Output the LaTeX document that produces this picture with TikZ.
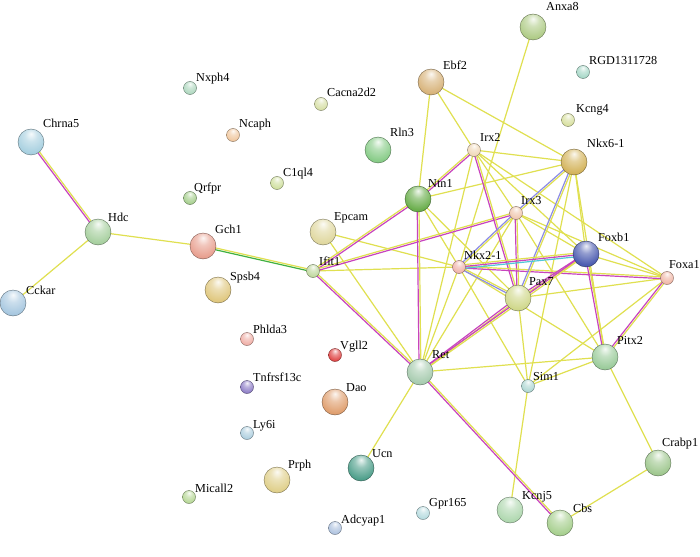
\documentclass[tikz,border=0pt]{standalone}
\usepackage{fontspec}
\setmainfont{Liberation Serif}
\usetikzlibrary{calc}
\makeatletter
\pgfdeclareradialshading[tikz@ball]{softball}{\pgfqpoint{0bp}{16bp}}{%
 color(0bp)=(tikz@ball!10!white);
 color(12bp)=(tikz@ball!60!white);
 color(30bp)=(tikz@ball);
 color(48bp)=(tikz@ball!85!black);
 color(60bp)=(tikz@ball!70!black);
 color(72bp)=(tikz@ball!55!black)}
\makeatother
\pgfdeclarelayer{bg}
\pgfdeclarelayer{edges}
\pgfsetlayers{bg,edges,main}
\definecolor{eyel}{HTML}{E0E050}
\definecolor{emag}{HTML}{C844BE}
\definecolor{eblu}{HTML}{8C8CE6}
\definecolor{ecya}{HTML}{50C8D8}
\definecolor{egrn}{HTML}{40B040}
\tikzset{
  gball/.style={circle,inner sep=0pt,draw=#1!55!black,line width=0.4pt,ball color=#1,shading=softball},
  glabel/.style={anchor=base west,inner sep=0pt,font=\fontsize{12.2}{13}\selectfont},
  eg/.style={line width=1.2pt},
  ye/.style={eg,eyel}
}
\newcommand\gene[8]{%
  \node[gball=#5,minimum size=#4] (#1) at (#2,#3) {};
  \node[glabel] (#1l) at ($(#1)+(#7,#8)$) {#6};}
\newcommand\ey[2]{\draw[ye] (#1.center) -- (#2.center);}
\newcommand\etwo[4]{%
  \draw[eg,#3] ($(#1)!0.9pt!90:(#2)$) -- ($(#2)!0.9pt!-90:(#1)$);
  \draw[eg,#4] ($(#1)!0.9pt!-90:(#2)$) -- ($(#2)!0.9pt!90:(#1)$);}
\newcommand\ethree[5]{%
  \draw[eg,#3] ($(#1)!1.8pt!90:(#2)$) -- ($(#2)!1.8pt!-90:(#1)$);
  \draw[eg,#4] (#1.center) -- (#2.center);
  \draw[eg,#5] ($(#1)!1.8pt!-90:(#2)$) -- ($(#2)!1.8pt!90:(#1)$);}
\definecolor{cAnxa}{HTML}{B0CC88}
\definecolor{cRgd}{HTML}{A8D8C8}
\definecolor{cKcng}{HTML}{D8E0A0}
\definecolor{cEbf}{HTML}{D8B47C}
\definecolor{cRln}{HTML}{88CC88}
\definecolor{cIrxb}{HTML}{F0D8B8}
\definecolor{cNkxf}{HTML}{D4B45C}
\definecolor{cNtn}{HTML}{6AAE4C}
\definecolor{cIrxc}{HTML}{F0C8B0}
\definecolor{cFoxb}{HTML}{4C5CB0}
\definecolor{cFoxa}{HTML}{F0B8A8}
\definecolor{cNkxt}{HTML}{F0B4AC}
\definecolor{cPax}{HTML}{D0D88C}
\definecolor{cPitx}{HTML}{9CCC9C}
\definecolor{cRet}{HTML}{A8CCB0}
\definecolor{cSim}{HTML}{B0D8D4}
\definecolor{cCrab}{HTML}{A0C890}
\definecolor{cCbs}{HTML}{A8D090}
\definecolor{cKcnj}{HTML}{B0D8B0}
\definecolor{cGpr}{HTML}{B8DCE0}
\definecolor{cUcn}{HTML}{50A08C}
\definecolor{cAdcy}{HTML}{B0C4E0}
\definecolor{cPrph}{HTML}{E0D08C}
\definecolor{cMic}{HTML}{B8D898}
\definecolor{cLy}{HTML}{B0D0E0}
\definecolor{cTnf}{HTML}{9080C8}
\definecolor{cPhl}{HTML}{F0B0A8}
\definecolor{cVgl}{HTML}{E04848}
\definecolor{cDao}{HTML}{E0A070}
\definecolor{cSps}{HTML}{E0C880}
\definecolor{cGch}{HTML}{E8A090}
\definecolor{cHdc}{HTML}{A8D0A0}
\definecolor{cChr}{HTML}{A8D0E0}
\definecolor{cCck}{HTML}{A8C8E0}
\definecolor{cQrf}{HTML}{A8D090}
\definecolor{cCql}{HTML}{D0E0A0}
\definecolor{cNca}{HTML}{F0C8A0}
\definecolor{cEpc}{HTML}{E0D8A0}
\definecolor{cIfi}{HTML}{C0D8A0}
\definecolor{cNxp}{HTML}{B0D8C0}
\definecolor{cCac}{HTML}{D8E0A8}
\begin{document}
\begin{tikzpicture}[x=1pt,y=-1pt]
\begin{pgfonlayer}{bg}
\fill[white] (0,0) rectangle (700,556);
\end{pgfonlayer}
\useasboundingbox (0,0) rectangle (700,556);
% nodes
\gene{anxa}{533}{27}{26pt}{cAnxa}{Anxa8}{13}{-16}
\gene{rgd}{583}{72}{13pt}{cRgd}{RGD1311728}{6}{-7}
\gene{kcng}{568}{120}{13pt}{cKcng}{Kcng4}{8}{-7}
\gene{ebf}{431}{82}{26pt}{cEbf}{Ebf2}{12}{-12}
\gene{rln}{378}{150}{26pt}{cRln}{Rln3}{12}{-13}
\gene{irxb}{474}{150}{13pt}{cIrxb}{Irx2}{6}{-8}
\gene{nkxf}{574}{162}{26pt}{cNkxf}{Nkx6-1}{13}{-14}
\gene{ntn}{418}{199}{26pt}{cNtn}{Ntn1}{10}{-12}
\gene{irxc}{516}{213}{13pt}{cIrxc}{Irx3}{5}{-9}
\gene{foxb}{586}{254}{26pt}{cFoxb}{Foxb1}{12}{-13}
\gene{foxa}{667}{278}{13pt}{cFoxa}{Foxa1}{2}{-10}
\gene{nkxt}{459}{267}{13pt}{cNkxt}{Nkx2-1}{5}{-8}
\gene{pax}{518}{298}{26pt}{cPax}{Pax7}{11}{-13}
\gene{pitx}{605}{357}{26pt}{cPitx}{Pitx2}{12}{-13}
\gene{ret}{420}{372}{26pt}{cRet}{Ret}{12}{-14}
\gene{sim}{528}{386}{13pt}{cSim}{Sim1}{5}{-6}
\gene{crab}{658}{463}{26pt}{cCrab}{Crabp1}{4}{-17}
\gene{cbs}{560}{523}{26pt}{cCbs}{Cbs}{13}{-11}
\gene{kcnj}{510}{510}{26pt}{cKcnj}{Kcnj5}{12}{-11}
\gene{gpr}{423}{513}{13pt}{cGpr}{Gpr165}{6}{-7}
\gene{ucn}{361}{468}{26pt}{cUcn}{Ucn}{11}{-11}
\gene{adcy}{335}{528}{13pt}{cAdcy}{Adcyap1}{6}{-5}
\gene{prph}{277}{480}{26pt}{cPrph}{Prph}{11}{-12}
\gene{mic}{189}{497}{13pt}{cMic}{Micall2}{6}{-5}
\gene{ly}{247}{433}{13pt}{cLy}{Ly6i}{6}{-5}
\gene{tnf}{247}{387}{13pt}{cTnf}{Tnfrsf13c}{6}{-6}
\gene{phl}{247}{339}{13pt}{cPhl}{Phlda3}{6}{-6}
\gene{vgl}{335}{355}{13pt}{cVgl}{Vgll2}{5}{-6}
\gene{dao}{335}{402}{26pt}{cDao}{Dao}{11}{-11}
\gene{sps}{218}{290}{26pt}{cSps}{Spsb4}{12}{-10}
\gene{gch}{203}{246}{26pt}{cGch}{Gch1}{12}{-13}
\gene{hdc}{98}{232}{26pt}{cHdc}{Hdc}{10}{-11}
\gene{chr}{31}{142}{26pt}{cChr}{Chrna5}{12}{-14}
\gene{cck}{13}{303}{26pt}{cCck}{Cckar}{13}{-9}
\gene{qrf}{190}{198}{13pt}{cQrf}{Qrfpr}{4}{-7}
\gene{cql}{277}{183}{13pt}{cCql}{C1ql4}{6}{-7}
\gene{nca}{233}{135}{13pt}{cNca}{Ncaph}{6}{-7}
\gene{epc}{323}{232}{26pt}{cEpc}{Epcam}{11}{-12}
\gene{ifi}{313}{271}{13pt}{cIfi}{Ifit1}{6}{-6}
\gene{nxp}{190}{88}{13pt}{cNxp}{Nxph4}{6}{-6}
\gene{cac}{321}{104}{13pt}{cCac}{Cacna2d2}{6}{-7}
% edges
\begin{pgfonlayer}{edges}
\ey{hdc}{cck}
\ey{hdc}{gch}
\ey{ifi}{nkxt}
\ey{epc}{ret}
\ey{epc}{nkxt}
\ey{ntn}{ebf}
\ey{ntn}{nkxf}
\ey{ntn}{nkxt}
\ey{ntn}{pax}
\ey{irxb}{nkxf}
\ey{irxb}{irxc}
\ey{irxb}{foxb}
\ey{irxb}{foxa}
\ey{irxb}{ret}
\ey{anxa}{nkxt}
\ey{ebf}{irxb}
\ey{ebf}{nkxf}
\ey{nkxf}{foxb}
\ey{nkxf}{sim}
\ey{nkxf}{pitx}
\ey{irxc}{foxb}
\ey{irxc}{foxa}
\ey{irxc}{ret}
\ey{irxc}{pitx}
\ey{nkxt}{ret}
\ey{nkxt}{sim}
\ey{nkxt}{pitx}
\ey{foxb}{foxa}
\ey{foxa}{pax}
\ey{foxa}{sim}
\ey{pax}{sim}
\ey{ret}{pitx}
\ey{sim}{pitx}
\ey{ret}{ucn}
\ey{sim}{kcnj}
\ey{pitx}{crab}
\ey{crab}{cbs}
\etwo{chr}{hdc}{eyel}{emag}
\etwo{ifi}{ntn}{eyel}{emag}
\etwo{ifi}{irxc}{eyel}{emag}
\etwo{ifi}{ret}{eyel}{emag}
\etwo{ntn}{irxb}{eyel}{emag}
\etwo{ntn}{ret}{eyel}{emag}
\etwo{irxb}{pax}{eyel}{emag}
\etwo{irxc}{pax}{eyel}{emag}
\etwo{nkxt}{foxa}{eyel}{emag}
\etwo{foxb}{pax}{eyel}{emag}
\etwo{pax}{ret}{eyel}{emag}
\etwo{foxb}{ret}{eyel}{emag}
\etwo{foxb}{pitx}{eyel}{emag}
\etwo{foxa}{pitx}{eyel}{emag}
\etwo{ret}{cbs}{eyel}{emag}
\etwo{nkxf}{irxc}{eyel}{eblu}
\etwo{nkxf}{pax}{eyel}{eblu}
\etwo{irxc}{nkxt}{eyel}{eblu}
\etwo{nkxt}{pax}{eyel}{eblu}
\ethree{nkxt}{foxb}{eyel}{emag}{ecya}
\etwo{gch}{ifi}{eyel}{egrn}
\end{pgfonlayer}
\end{tikzpicture}
\end{document}
